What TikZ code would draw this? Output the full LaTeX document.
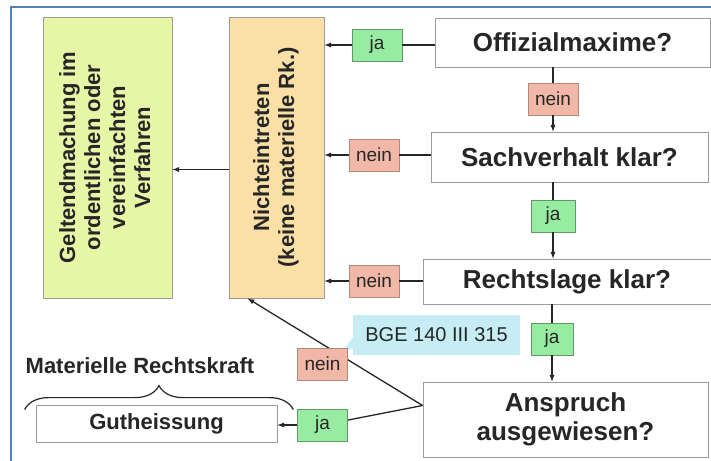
\documentclass[tikz,border=0pt]{standalone}
\usepackage{fontspec}
\setmainfont{Liberation Sans}
\usetikzlibrary{positioning,shapes.callouts,decorations.pathreplacing}

\definecolor{frameblue}{RGB}{79,129,189}
\definecolor{limefill}{RGB}{231,246,166}
\definecolor{orangefill}{RGB}{250,224,166}
\definecolor{jafill}{RGB}{152,236,162}
\definecolor{neinfill}{RGB}{241,184,168}
\definecolor{bgefill}{RGB}{198,237,243}
\definecolor{boxline}{RGB}{155,155,155}
\definecolor{ink}{RGB}{38,38,38}

\tikzset{
    question/.style={draw=boxline,fill=white,thick,inner sep=0pt,align=center,
        text=ink,font=\bfseries\fontsize{26}{29}\selectfont},
    outcome/.style={draw=boxline,thick,inner sep=0pt,text=ink,
        font=\bfseries\fontsize{22}{25}\selectfont},
    answer/.style={thick,inner sep=0pt,minimum width=50,minimum height=32,
        text=ink,font=\fontsize{19}{22}\selectfont},
    ja/.style={answer,draw=jafill!65!black,fill=jafill},
    nein/.style={answer,draw=neinfill!75!black,fill=neinfill},
    flow/.style={-latex,line width=1.3pt,draw=ink},
    link/.style={line width=1.3pt,draw=ink}
}

\begin{document}
\begin{tikzpicture}[x=1pt,y=-1pt]
\useasboundingbox (0,0) rectangle (711,460);

% frame
\draw[frameblue,line width=2.5pt] (11,470) -- (11,7) -- (720,7);

% ========= Outcomes =========
\node[outcome,fill=limefill,minimum width=129,minimum height=281] (geltend) at (107.5,157.5)
    {\rotatebox{90}{\begin{tabular}{@{}c@{}}Geltendmachung im\\ ordentlichen oder\\ vereinfachten\\ Verfahren\end{tabular}}};
\node[outcome,fill=orangefill,minimum width=95,minimum height=281] (nicht) at (276.5,157.5)
    {\rotatebox{90}{\begin{tabular}{@{}c@{}}Nichteintreten\\ (keine materielle Rk.)\end{tabular}}};
\node[outcome,fill=white,minimum width=241,minimum height=37] (gut) at (156.5,423.5) {Gutheissung};

% ========= Questions =========
\node[question,minimum width=275,minimum height=49] (offizial) at (572.5,42.5) {Offizialmaxime?};
\node[question,minimum width=277,minimum height=50] (sach) at (569.5,157) {Sachverhalt klar?};
\node[question,minimum width=288,minimum height=45] (rechts) at (567,281.5) {Rechtslage klar?};
\node[question,minimum width=285,minimum height=75] (anspruch) at (565.5,419.5) {Anspruch\\ ausgewiesen?};

% ========= Answers =========
\node[ja] (ja1) at (377,45) {ja};
\node[nein] (nein1) at (553,99) {nein};
\node[nein] (nein2) at (374,155) {nein};
\node[ja,minimum width=44] (ja2) at (553,216) {ja};
\node[nein] (nein3) at (374,281) {nein};
\node[ja,minimum width=42] (ja3) at (552,339) {ja};
\node[ja] (ja4) at (322.5,425) {ja};

\node[rectangle callout,fill=bgefill,inner sep=0pt,minimum width=167,minimum height=40,
    callout absolute pointer={(344,350)},callout pointer width=12pt,
    text=ink,font=\fontsize{20}{22}\selectfont] (bge) at (436.5,335) {BGE 140 III 315};

% ========= Connectors =========
\draw[link] (offizial.west |- ja1) -- (ja1);
\draw[flow] (ja1) -- (ja1 -| nicht.east);
\draw[link] (offizial.south -| nein1) -- (nein1);
\draw[flow] (nein1) -- (nein1 |- sach.north);
\draw[link] (sach.west |- nein2) -- (nein2);
\draw[flow] (nein2) -- (nein2 -| nicht.east);
\draw[link] (sach.south -| ja2) -- (ja2);
\draw[flow] (ja2) -- (ja2 |- rechts.north);
\draw[link] (rechts.west |- nein3) -- (nein3);
\draw[flow] (nein3) -- (nein3 -| nicht.east);
\draw[link] (rechts.south -| ja3) -- (ja3);
\draw[flow] (ja3) -- (ja3 |- anspruch.north);
\draw[flow] ([yshift=-12pt]nicht.west) -- ([yshift=-12pt]geltend.east);

% fork out of the last question
\coordinate (fork) at ([yshift=14pt]anspruch.west);
\coordinate (nichtfoot) at ([xshift=19pt]nicht.south west);
\draw[flow] (fork) -- (nichtfoot);
\draw[link] (fork) -- (ja4);
\draw[flow] (ja4) -- (ja4 -| gut.east);
\node[nein] (nein4) at (322.5,364) {nein};

% ========= Rechtskraft =========
\draw[ink,line width=1.2pt,decorate,decoration={brace,amplitude=24pt}]
    ([shift={(-11pt,-5pt)}]gut.north west) -- ([shift={(16pt,-5pt)}]gut.north east);
\node[text=ink,font=\bfseries\fontsize{22}{25}\selectfont] (mrk) at (140,366) {Materielle Rechtskraft};

\end{tikzpicture}
\end{document}
